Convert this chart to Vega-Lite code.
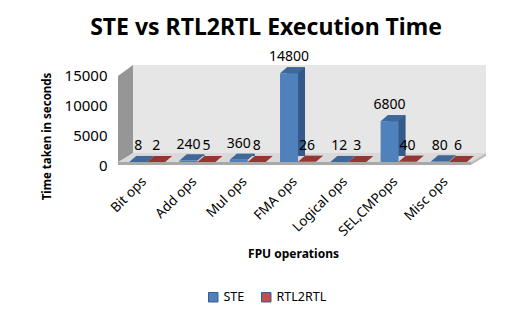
{"$schema":"https://vega.github.io/schema/vega-lite/v6.json","width":368,"height":105,"autosize":"none","padding":{"left":118,"top":60,"right":44,"bottom":151},"background":"white",
"title":{"text":"STE vs RTL2RTL Execution Time","font":"Noto Sans","fontSize":23,"fontWeight":"bold","color":"#000000","anchor":"middle","frame":"group","dx":-36,"offset":10},
"datasets":{"panels":[
{"face":"a_wall","px":15,"t":1500,"t2":16170},{"face":"a_wall","px":368,"t":1500,"t2":16170},
{"face":"b_left","px":0,"t":-500,"t2":14330},{"face":"b_left","px":15,"t":1500,"t2":16170},
{"face":"c_top","px":0,"t":0,"t2":0},{"face":"c_top","px":15,"t":0,"t2":1500},{"face":"c_top","px":353,"t":0,"t2":1500},{"face":"c_top","px":368,"t":1500,"t2":1500},
{"face":"d_front","px":0,"t":-500,"t2":0},{"face":"d_front","px":353,"t":-500,"t2":0},
{"face":"e_right","px":353,"t":-500,"t2":0},{"face":"e_right","px":368,"t":1000,"t2":1500}],
"bars":[
{"op":"Bit ops","series":"STE","time":8},{"op":"Bit ops","series":"RTL2RTL","time":2},
{"op":"Add ops","series":"STE","time":240},{"op":"Add ops","series":"RTL2RTL","time":5},
{"op":"Mul ops","series":"STE","time":360},{"op":"Mul ops","series":"RTL2RTL","time":8},
{"op":"FMA ops","series":"STE","time":14800},{"op":"FMA ops","series":"RTL2RTL","time":26},
{"op":"Logical ops","series":"STE","time":12},{"op":"Logical ops","series":"RTL2RTL","time":3},
{"op":"SEL,CMPops","series":"STE","time":6800},{"op":"SEL,CMPops","series":"RTL2RTL","time":40},
{"op":"Misc ops","series":"STE","time":80},{"op":"Misc ops","series":"RTL2RTL","time":6}]},
"layer":[
{"data":{"name":"panels"},"mark":{"type":"area","orient":"vertical","line":false},
"encoding":{"x":{"field":"px","type":"quantitative","scale":{"domain":[0,368],"nice":false,"zero":false},"axis":null},
"y":{"field":"t","type":"quantitative","stack":false,"scale":{"domain":[-500,17000],"nice":false,"zero":false},
"axis":{"values":[0,5000,10000,15000],"format":"d","grid":false,"domain":false,"ticks":false,"labelFont":"Noto Sans","labelFontSize":15,"labelColor":"#000000","labelPadding":11,"labelOffset":3,"title":"Time taken in seconds","titleFont":"Noto Sans","titleFontSize":11.5,"titleFontWeight":"bold","titleColor":"#000000","titleX":-66,"titleY":76}},
"y2":{"field":"t2"},
"color":{"field":"face","type":"nominal","legend":null,"scale":{"domain":["a_wall","b_left","c_top","d_front","e_right"],"range":["#E6E6E6","#969696","#D9D9D9","#A8A8A8","#BDBDBD"]}}}},
{"data":{"name":"bars"},
"encoding":{"x":{"field":"op","type":"nominal","sort":null,"scale":{"range":[4,356],"paddingInner":0.285,"paddingOuter":0.1425},
"axis":{"labelAngle":-45,"labelAlign":"right","labelBaseline":"middle","labelFont":"Noto Sans","labelFontSize":13.5,"labelColor":"#000000","labelPadding":14,"labelOffset":-3,"domain":false,"ticks":false,"title":"FPU operations","titleFont":"Noto Sans","titleFontSize":12,"titleFontWeight":"bold","titleColor":"#000000","titleX":175,"titleY":83}},
"xOffset":{"field":"series","type":"nominal","sort":["STE","RTL2RTL"],"scale":{"type":"band","domain":["STE","RTL2RTL"],"range":[0,36],"paddingInner":0,"paddingOuter":0}},
"y":{"field":"time","type":"quantitative","stack":false,"scale":{"domain":[-500,17000],"nice":false,"zero":false},
"axis":{"values":[0,5000,10000,15000],"format":"d","grid":false,"domain":false,"ticks":false,"labelFont":"Noto Sans","labelFontSize":15,"labelColor":"#000000","labelPadding":11,"labelOffset":3,"title":"Time taken in seconds","titleFont":"Noto Sans","titleFontSize":11.5,"titleFontWeight":"bold","titleColor":"#000000","titleX":-66,"titleY":76}}},
"layer":[
{"mark":{"type":"bar","yOffset":-6,"y2Offset":-6,"cornerRadius":0},"encoding":{"xOffset":{"field":"series","type":"nominal","sort":["STE","RTL2RTL"],"scale":{"type":"band","domain":["STE","RTL2RTL"],"range":[7,43],"paddingInner":0,"paddingOuter":0}},"y2":{"datum":0},"color":{"field":"series","type":"nominal","legend":null,"scale":{"domain":["STE","RTL2RTL"],"range":["#345A8A","#8A3534"]}}}},
{"mark":{"type":"point","filled":true,"opacity":1,"size":4,"shape":"M-9,0L9,0L16,-6L-2,-6Z"},"encoding":{"color":{"field":"series","type":"nominal","legend":null,"scale":{"domain":["STE","RTL2RTL"],"range":["#3F6797","#943634"]}}}},
{"mark":{"type":"bar"},"encoding":{"y2":{"datum":0},"color":{"field":"series","type":"nominal","scale":{"domain":["STE","RTL2RTL"],"range":["#4F81BD","#C0504D"]},"legend":{"orient":"none","legendX":89,"legendY":231,"direction":"horizontal","title":null,"symbolType":"square","symbolSize":90,"symbolStrokeColor":"#385D8A","symbolStrokeWidth":1,"labelFont":"Noto Sans","labelFontSize":12.5,"labelColor":"#000000","columns":2,"columnPadding":14}}}},
{"mark":{"type":"text","font":"Noto Sans","fontSize":14,"color":"#000000","dy":-16},"encoding":{"text":{"field":"time","type":"quantitative"}}}
],"resolve":{"scale":{"color":"independent","xOffset":"independent"}}}
],"resolve":{"scale":{"x":"independent","color":"independent"}},
"config":{"view":{"stroke":null}}}
